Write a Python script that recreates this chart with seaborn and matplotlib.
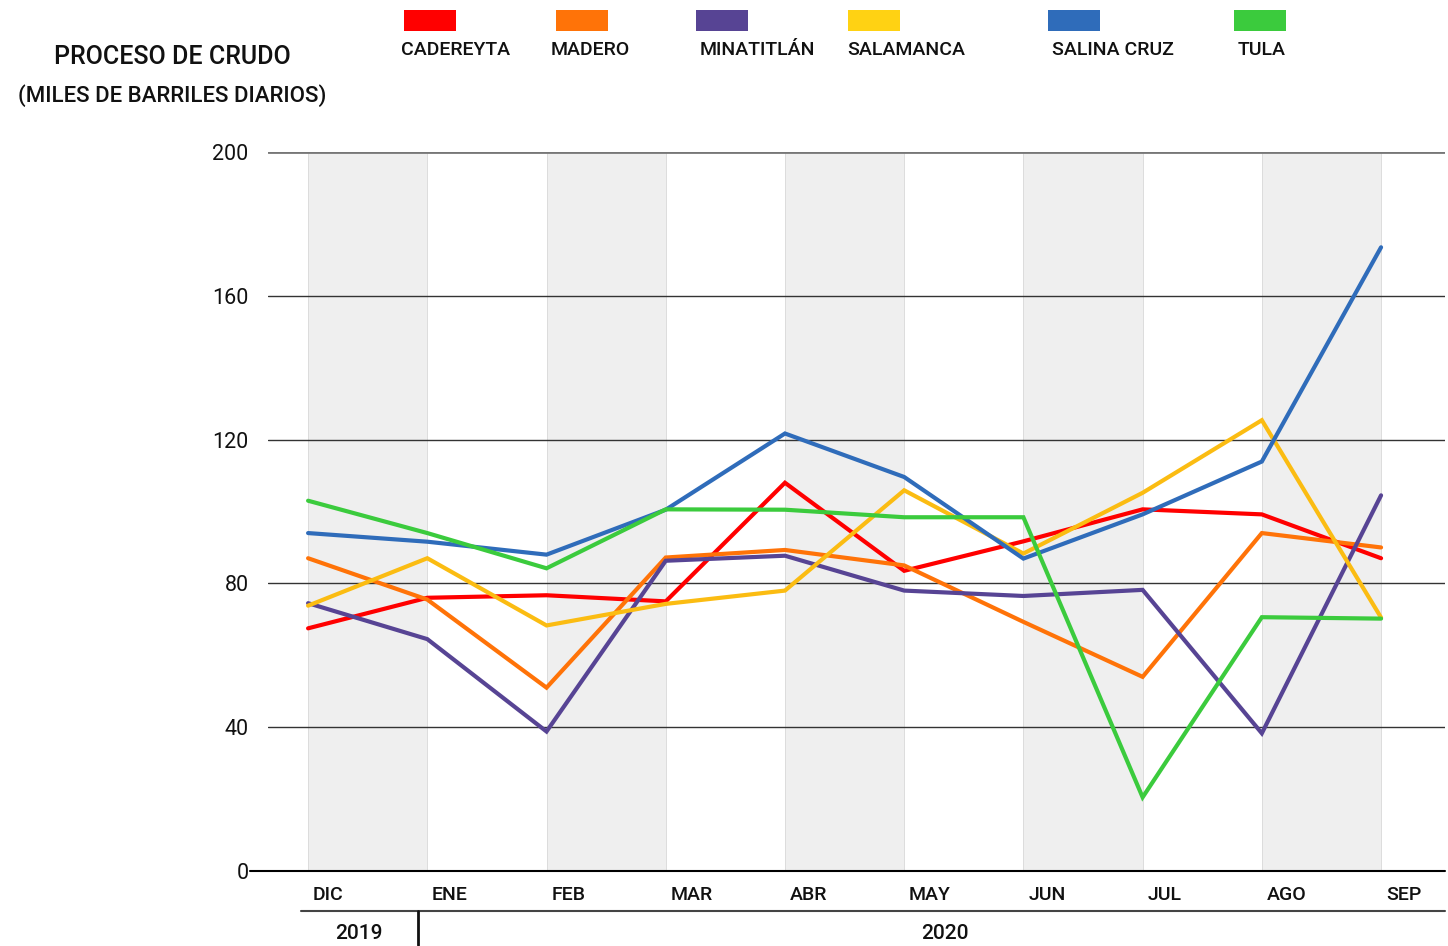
import seaborn as sns
import matplotlib.pyplot as plt
import numpy as np
import pandas as pd
from matplotlib.patches import Rectangle

meses = ['DIC', 'ENE', 'FEB', 'MAR', 'ABR', 'MAY', 'JUN', 'JUL', 'AGO', 'SEP']
refinerias = ['CADEREYTA', 'MADERO', 'MINATITLÁN', 'SALAMANCA', 'SALINA CRUZ', 'TULA']
colores = ['#ff0000', '#ff7308', '#574494', '#fbbc12', '#2f6cba', '#3bcb3d']
colores_leyenda = ['#ff0000', '#ff7308', '#574494', '#ffd213', '#2f6cba', '#3bcb3d']

cadereyta = [67.5, 76.0, 76.7, 75.0, 108.0, 83.5, 91.7, 100.6, 99.2, 87.0]
madero = [87.0, 75.5, 51.0, 87.2, 89.3, 85.0, 69.3, 54.0, 94.0, 90.0]
minatitlan = [74.5, 64.5, 38.8, 86.3, 87.7, 78.0, 76.5, 78.2, 38.3, 104.5]
salamanca = [73.8, 87.0, 68.3, 74.3, 78.0, 105.9, 88.3, 105.2, 125.4, 70.5]
salina_cruz = [94.0, 91.6, 88.0, 100.5, 121.7, 109.6, 86.9, 99.2, 113.9, 173.5]
tula = [103.0, 94.0, 84.2, 100.6, 100.5, 98.4, 98.4, 20.5, 70.6, 70.2]

yticks = [0, 40, 80, 120, 160, 200]
anios = ['2019', '2020']

series = [cadereyta, madero, minatitlan, salamanca, salina_cruz, tula]
df = pd.concat([pd.DataFrame({'idx': np.arange(len(meses)), 'valor': s, 'refineria': r})
                for r, s in zip(refinerias, series)], ignore_index=True)

sns.set_style('white')
plt.rcParams['font.family'] = ['Roboto', 'DejaVu Sans']
TXT = '#111111'

fig = plt.figure(figsize=(14.48, 9.46), dpi=100)
ax = fig.add_axes([0.1851, 0.0793, 0.8128, 0.76])

# bandas grises alternas
for i in range(0, len(meses) - 1, 2):
    ax.axvspan(i, i + 1, color='#efefef', lw=0, zorder=0)
for i in range(len(meses)):
    ax.axvline(i, color='#dcdcdc', lw=0.7, zorder=0.5)

for y in yticks[1:-1]:
    ax.axhline(y, color='#333333', lw=1.0, zorder=1)
ax.axhline(200, color='#777777', lw=2, zorder=1)
ax.plot([-0.015, 1], [0, 0], color='black', lw=1.5, transform=ax.get_yaxis_transform(),
        clip_on=False, zorder=2)

sns.lineplot(data=df, x='idx', y='valor', hue='refineria', hue_order=refinerias,
             palette=colores, lw=3, legend=False, errorbar=None, sort=False,
             solid_joinstyle='miter', ax=ax, zorder=3)

ax.set_xlim(-0.336, 9.536)
ax.set_ylim(0, 200)
ax.set_xlabel('')
ax.set_ylabel('')
ax.set_xticks([])
ax.set_yticks(yticks)
ax.set_yticklabels([str(v) for v in yticks], fontsize=15.5, color=TXT)
ax.tick_params(axis='y', length=0, pad=14)
sns.despine(ax=ax, left=True, bottom=True)

# etiquetas de meses
for i, m in enumerate(meses):
    ax.text(i + 0.04, -0.033, m, transform=ax.get_xaxis_transform(), ha='left', va='center',
            fontsize=14, fontweight='medium', color=TXT)

# linea de años
ax.plot([0.028, 1], [-0.055, -0.055], color='#444444', lw=1.5,
        transform=ax.transAxes, clip_on=False)
ax.plot([0.92, 0.92], [-0.055, -0.103], color='#111111', lw=2,
        transform=ax.get_xaxis_transform(), clip_on=False)
ax.text(0.43, -0.087, anios[0], transform=ax.get_xaxis_transform(), ha='center', va='center',
        fontsize=15, fontweight='medium', color=TXT)
ax.text(5.34, -0.087, anios[1], transform=ax.get_xaxis_transform(), ha='center', va='center',
        fontsize=15, fontweight='medium', color=TXT)

# titulo
fig.text(172 / 1448, 1 - 57 / 946, 'PROCESO DE CRUDO', ha='center', va='center',
         fontsize=18, fontweight='medium', color=TXT)
fig.text(172 / 1448, 1 - 96 / 946, '(MILES DE BARRILES DIARIOS)', ha='center', va='center',
         fontsize=16, fontweight='medium', color=TXT)

# leyenda
leyenda_x = [404, 556, 696, 848, 1048, 1234]
etiqueta_x = [401, 551, 700, 847, 1052, 1238]
for x, xt, nombre, c in zip(leyenda_x, etiqueta_x, refinerias, colores_leyenda):
    fig.patches.append(Rectangle((x / 1448, 1 - 31 / 946), 52 / 1448, 21 / 946,
                                 transform=fig.transFigure, color=c, lw=0))
    fig.text(xt / 1448, 1 - 50 / 946, nombre, ha='left', va='center',
             fontsize=14, fontweight='medium', color=TXT)

fig.savefig('out.png', dpi=100)
